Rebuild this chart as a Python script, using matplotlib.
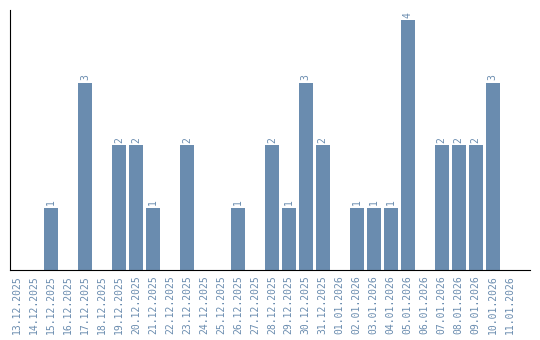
import matplotlib
matplotlib.use("Agg")
import matplotlib.pyplot as plt

dates = ["13.12.2025", "14.12.2025", "15.12.2025", "16.12.2025", "17.12.2025",
         "18.12.2025", "19.12.2025", "20.12.2025", "21.12.2025", "22.12.2025",
         "23.12.2025", "24.12.2025", "25.12.2025", "26.12.2025", "27.12.2025",
         "28.12.2025", "29.12.2025", "30.12.2025", "31.12.2025", "01.01.2026",
         "02.01.2026", "03.01.2026", "04.01.2026", "05.01.2026", "06.01.2026",
         "07.01.2026", "08.01.2026", "09.01.2026", "10.01.2026", "11.01.2026"]
counts = [0, 0, 1, 0, 3, 0, 2, 2, 1, 0, 2, 0, 0, 1, 0,
          2, 1, 3, 2, 0, 1, 1, 1, 4, 0, 2, 2, 2, 3, 0]

BAR = "#6a8caf"
FONT = "DejaVu Sans Mono"

fig = plt.figure(figsize=(5.4, 3.4), dpi=100)
ax = fig.add_axes([0.0185, 0.206, 0.9625, 0.764])

x = list(range(len(dates)))
ax.bar(x, counts, width=0.82, color=BAR)
for xi, v in zip(x, counts):
    if v > 0:
        ax.text(xi, v + 0.04, str(v), rotation=90, ha="center", va="bottom",
                fontsize=7, color=BAR, family=FONT)

ax.set_xlim(-0.41, 30.18)
ax.set_ylim(0, 4.16)
ax.set_xticks(x)
ax.set_xticklabels(dates, rotation=90, fontsize=7, color=BAR, family=FONT)
ax.tick_params(axis="x", length=0, pad=4)
ax.set_yticks([])
for s in ("top", "right"):
    ax.spines[s].set_visible(False)
ax.spines["left"].set_color("black")
ax.spines["bottom"].set_color("black")

fig.savefig("out.png", dpi=100)
